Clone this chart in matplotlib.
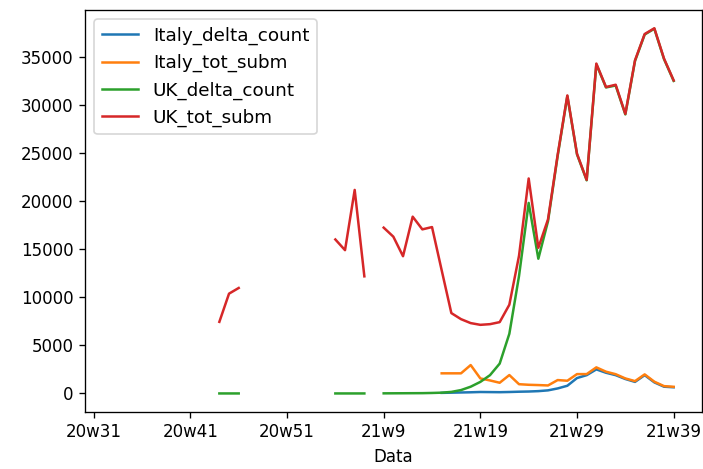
# -*- coding: utf-8 -*-
"""
Weekly submissions, Italy vs UK
"""

import matplotlib
matplotlib.use("Agg")
import matplotlib.pyplot as plt
import numpy as np

# Settings
DPI = 120
FIGSIZE = (703 / DPI, 469 / DPI)

# Week labels: 20w31 .. 20w52, then 21w1 .. 21w39
WEEKS = [f"20w{w}" for w in range(31, 53)] + [f"21w{w}" for w in range(1, 40)]

NA = None

# Series values (one per week, None = no data)
ITALY_DELTA_COUNT = [NA] * 36 + [
    60, 80, 100, 120, 150, 140, 130, 150, 180, 200,
    240, 320, 520, 800, 1600, 1900, 2500, 2150, 1900, 1500,
    1200, 1900, 1150, 700, 640]

ITALY_TOT_SUBM = [NA] * 36 + [
    2090, 2090, 2090, 2950, 1560, 1350, 1110, 1910, 960, 900,
    870, 830, 1390, 1320, 2010, 2010, 2710, 2260, 2000, 1560,
    1280, 1980, 1220, 760, 690]

UK_DELTA_COUNT = [NA] * 13 + [0, 0, 0] + [NA] * 9 + [0, 0, 0, 0] + [NA] + [
    10, 15, 20, 25, 30, 50, 80, 160, 350, 700,
    1200, 1900, 3100, 6200, 12200, 19800, 14000, 17900, 24700, 30900,
    24850, 22150, 34200, 31800, 32000, 29000, 34550, 37300, 37900, 34750,
    32480]

UK_TOT_SUBM = [NA] * 13 + [7440, 10370, 10960] + [NA] * 9 + \
    [16000, 14890, 21150, 12170] + [NA] + [
    17230, 16290, 14260, 18370, 17050, 17290, 12800, 8350, 7720, 7310,
    7130, 7200, 7410, 9220, 14300, 22340, 15140, 18090, 24800, 30970,
    24900, 22200, 34280, 31840, 32080, 29050, 34620, 37350, 37950, 34800,
    32530]

SERIES = [
    ("Italy_delta_count", ITALY_DELTA_COUNT),
    ("Italy_tot_subm", ITALY_TOT_SUBM),
    ("UK_delta_count", UK_DELTA_COUNT),
    ("UK_tot_subm", UK_TOT_SUBM),
]


def Main():

    fig = plt.figure(figsize=FIGSIZE, dpi=DPI)
    ax = fig.add_axes([85 / 703, 1 - 411.7 / 469, 616.7 / 703, 401.7 / 469])

    x = np.arange(len(WEEKS))

    # One line per series, gaps where there is no data
    for label, values in SERIES:
        y = np.array(values, dtype=float)
        ax.plot(x, y, label=label)

    # Ticks every 10 weeks, labelled with the week name
    ticks = np.arange(0, len(WEEKS), 10)
    ax.set_xticks(ticks)
    ax.set_xticklabels([WEEKS[t] for t in ticks])
    ax.set_xlim(-0.9, len(WEEKS) - 1 + 2.9)

    ax.set_xlabel("Data")
    ax.legend(loc="upper left", fontsize=11)

    fig.savefig("out.png", dpi=DPI)
    plt.close("all")


if __name__ == "__main__":
    Main()
